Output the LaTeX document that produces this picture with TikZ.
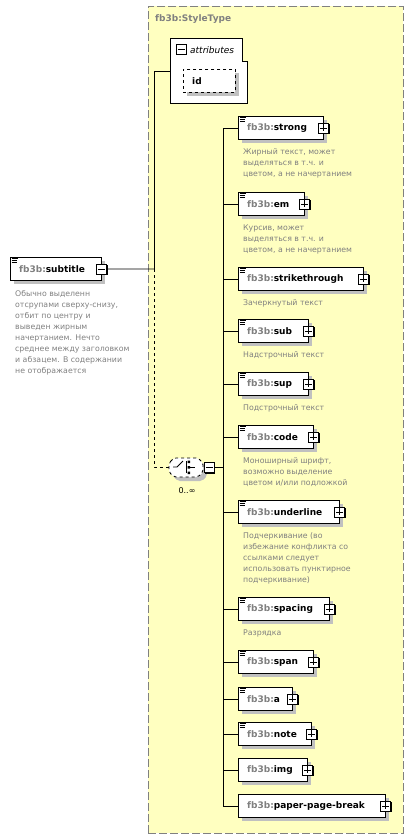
\documentclass[tikz,border=0pt]{standalone}
\usepackage{fontspec}
\setmainfont{DejaVu Sans}
\usetikzlibrary{shadows}
\definecolor{bgyellow}{RGB}{255,255,192}
\definecolor{frgray}{RGB}{128,128,128}
\definecolor{pfx}{RGB}{128,128,128}
\definecolor{shgray}{RGB}{192,192,192}
\tikzset{
  elbox/.style={draw=black, fill=white, line width=0.8pt, minimum height=23, inner sep=0,
    drop shadow={shadow xshift=4pt, shadow yshift=-4pt, fill=shgray, opacity=1}},
  pmbox/.style={draw=black, fill=white, line width=0.8pt, minimum width=10, minimum height=10, inner sep=0,
    drop shadow={shadow xshift=1pt, shadow yshift=-1pt, fill=black, opacity=1}},
  lbl/.style={inner sep=0, font=\fontsize{9}{11}\selectfont\bfseries, text=black},
  desc/.style={inner sep=0, align=left, font=\fontsize{7.8}{11}\selectfont, text=frgray},
  conn/.style={line width=0.8pt, black},
}
\newcommand\docicon[1]{%
  \draw[line width=0.7pt] ([xshift=1.5pt,yshift=-1.5pt]#1.north west) -- ++(6.5,0)
    ([xshift=1.5pt,yshift=-3.5pt]#1.north west) -- ++(5,0)
    ([xshift=1.5pt,yshift=-5.5pt]#1.north west) -- ++(5,0);}
\newcommand\pluss[1]{%
  \draw[line width=0.8pt] (#1.center) +(-3.5,0) -- +(3.5,0) (#1.center) +(0,-3.5) -- +(0,3.5);}
\newcommand\minuss[1]{%
  \draw[line width=0.8pt] (#1.center) +(-3.5,0) -- +(3.5,0);}
\newcommand\childel[6]{% name, top, width, label, doc, desc
  \node[elbox, minimum width=#3, anchor=north west] (#1) at (238,#2) {};
  \ifnum#5=1 \docicon{#1}\fi
  \node[lbl, anchor=west] (#1-l) at ([xshift=9pt]#1.west) {\textcolor{pfx}{fb3b:}#4};
  \node[pmbox] (#1-p) at (#1.east) {};
  \pluss{#1-p}
  \draw[conn] (#1.west) -- (#1.west -| trunk);
  \node[desc, anchor=north west] (#1-d) at ([xshift=5pt, yshift=-9pt]#1.south west) {#6};
}
\begin{document}
\begin{tikzpicture}[x=1pt, y=-1pt]
\useasboundingbox (0,0) rectangle (414,839);
% outer complex type frame
\node[draw=frgray, fill=bgyellow, dash pattern=on 8pt off 3pt, line width=0.9pt,
  minimum width=255, minimum height=827, anchor=north west, inner sep=0] (frame) at (148,6) {};
\node[anchor=west, inner sep=0, font=\fontsize{9}{11}\selectfont\bfseries, text=frgray] (ttl) at (155,19) {fb3b:StyleType};
% attributes
\draw[line width=0.8pt, fill=white] (170,38) -- (242,38) -- (242,61) -- (247,61) -- (247,103) -- (170,103) -- cycle;
\coordinate (attrw) at (170,71);
\node[pmbox, anchor=north west] (attrm) at (176,44) {};
\minuss{attrm}
\node[anchor=west, inner sep=0, font=\fontsize{9}{11}\selectfont\itshape] (attrl) at (190,50) {attributes};
\node[draw=black, fill=white, dashed, line width=0.8pt, minimum width=52, minimum height=23, inner sep=0,
  anchor=north west, drop shadow={shadow xshift=4pt, shadow yshift=-4pt, fill=shgray, opacity=1}] (idb) at (183,69) {};
\node[lbl, anchor=west] (idl) at ([xshift=9pt]idb.west) {id};
% subtitle element
\node[elbox, minimum width=91, anchor=north west] (sub0) at (10,257) {};
\docicon{sub0}
\node[lbl, anchor=west] (sub0-l) at ([xshift=9pt]sub0.west) {\textcolor{pfx}{fb3b:}subtitle};
\node[pmbox] (sub0-m) at (sub0.east) {};
\minuss{sub0-m}
\node[desc, anchor=north west] (sub0-d) at (15,290) {Обычно выделенн\\отсрупами сверху-снизу,\\отбит по центру и\\выведен жирным\\начертанием. Нечто\\среднее между заголовком\\и абзацем. В содержании\\не отображается};
% hub
\coordinate (hub) at (154,269);
\draw[conn] (sub0-m.east) -- (hub);
\draw[conn] (hub) |- (attrw);
% choice
\coordinate (choicew) at (169,467);
\fill[shgray, rounded corners=2pt] (173,467) -- (178,462) -- (202,462) -- (207,467) -- (207,476) -- (202,481) -- (178,481) -- (173,476) -- cycle;
\draw[dashed, line width=0.8pt, fill=white, rounded corners=2pt] (169,463) -- (174,458) -- (198,458) -- (203,463) -- (203,472) -- (198,477) -- (174,477) -- (169,472) -- cycle;
\draw[line width=0.8pt] (173,467) -- (177,467) -- (183,461);
\draw[line width=0.8pt] (186,461) -- (186,473);
\fill (187.5,460.5) rectangle (190,463) (187.5,466) rectangle (190,468.5) (187.5,471.5) rectangle (190,474);
\draw[line width=0.8pt] (190,467) -- (195,467);
\draw[conn, dashed] (hub) |- (choicew);
\node[pmbox] (chm) at (209,467.5) {};
\minuss{chm}
\node[inner sep=0, font=\fontsize{8}{10}\selectfont] (mult) at (187,491) {0..∞};
% trunk
\coordinate (trunk) at (223,128);
\coordinate (trunkend) at (223,807);
\draw[conn] (trunk) -- (trunkend);
\draw[conn] (chm.east) -- (chm.east -| trunk);
% children
\childel{strong}{116}{85}{strong}{1}{Жирный текст, может\\выделяться в т.ч. и\\цветом, а не начертанием}
\childel{em}{192}{66}{em}{1}{Курсив, может\\выделяться в т.ч. и\\цветом, а не начертанием}
\childel{strike}{267}{125}{strikethrough}{1}{Зачеркнутый текст}
\childel{sub}{319}{70}{sub}{1}{Надстрочный текст}
\childel{sup}{372}{70}{sup}{1}{Подстрочный текст}
\childel{code}{425}{75}{code}{1}{Моноширный шрифт,\\возможно выделение\\цветом и/или подложкой}
\childel{underline}{500}{101}{underline}{1}{Подчеркивание (во\\избежание конфликта со\\ссылками следует\\использовать пунктирное\\подчеркивание)}
\childel{spacing}{597}{91}{spacing}{1}{Разрядка}
\childel{span}{650}{75}{span}{1}{}
\childel{a}{687}{54}{a}{1}{}
\childel{note}{722}{73}{note}{1}{}
\childel{img}{758}{69}{img}{0}{}
\childel{ppb}{794}{147}{paper-page-break}{0}{}
\end{tikzpicture}
\end{document}
